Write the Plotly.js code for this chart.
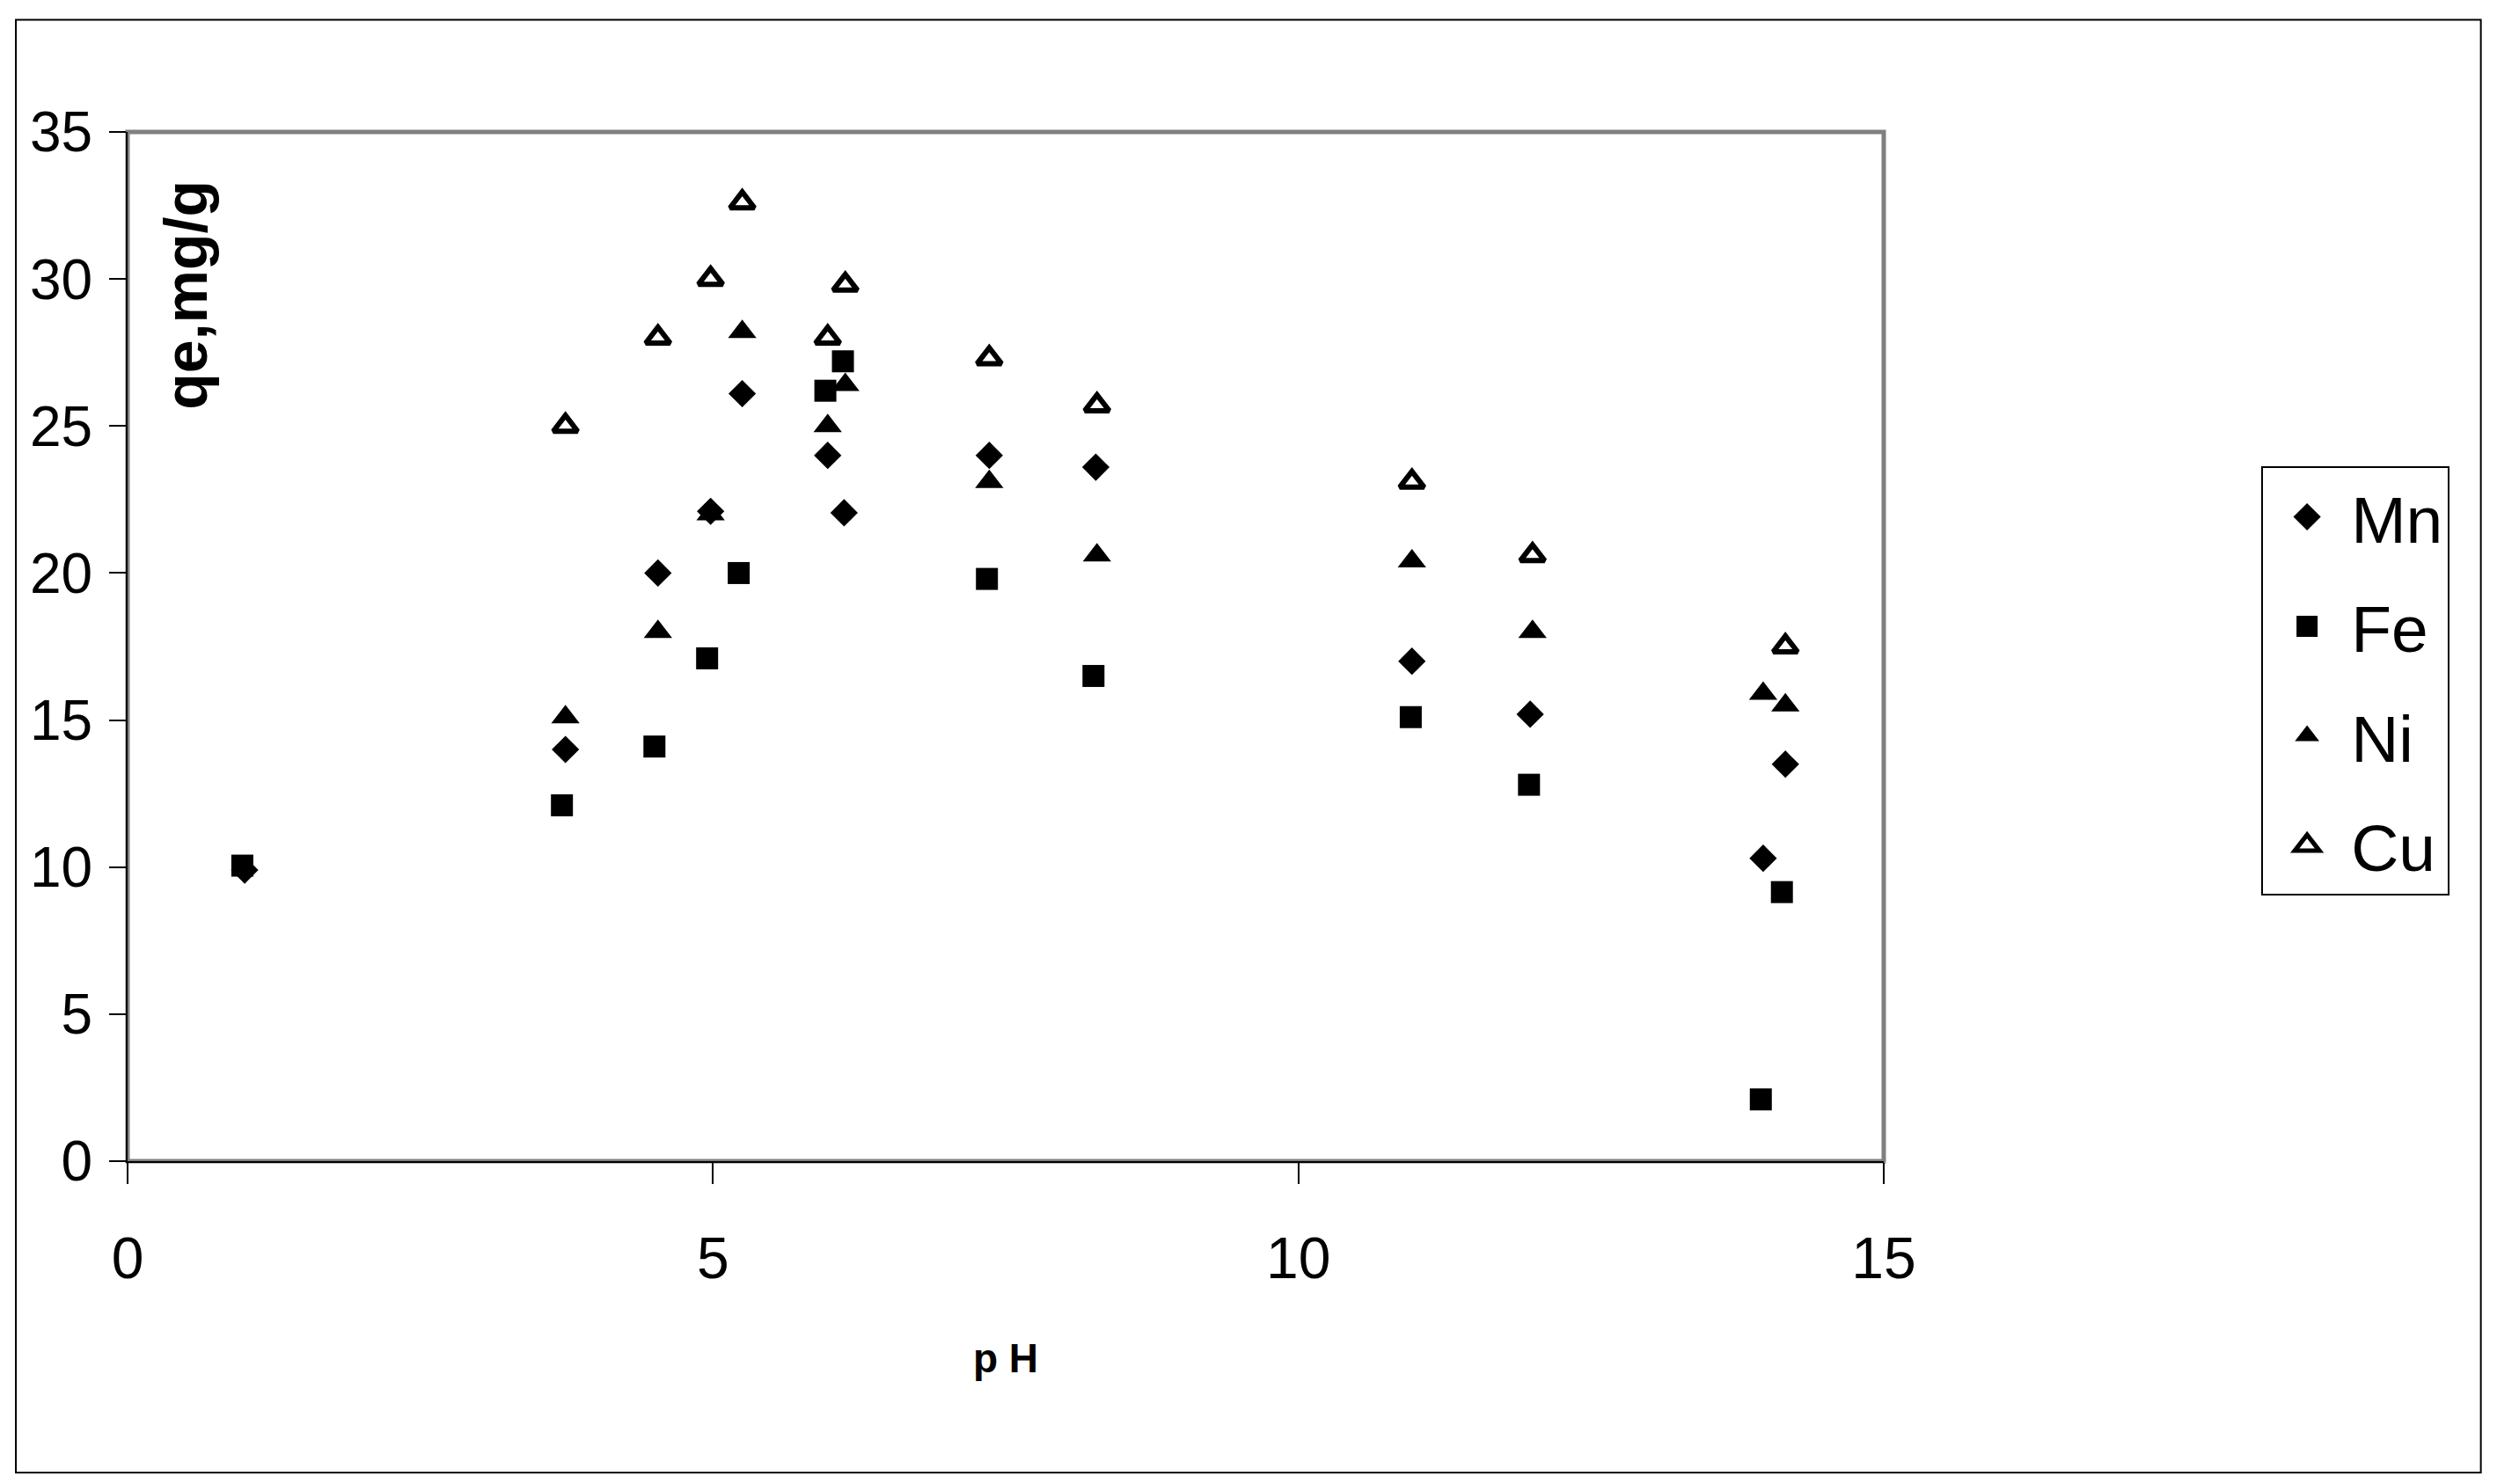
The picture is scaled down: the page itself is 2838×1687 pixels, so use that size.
<!DOCTYPE html>
<html>
<head>
<meta charset="utf-8">
<script src="https://cdn.plot.ly/plotly-3.0.1.min.js"></script>
<style>
  html, body { margin: 0; padding: 0; background: #fff; }
  #chart { width: 2838px; height: 1687px; }
</style>
</head>
<body>
<div id="chart"></div>
<script>
// values
var seriesNames = ['Mn', 'Fe', 'Ni', 'Cu'];

var phMn = [1.0, 3.74, 4.53, 4.98, 5.25, 5.98, 6.12, 7.36, 8.27, 10.97, 11.98, 13.97, 14.16];
var qeMn = [9.9, 14.0, 20.0, 22.1, 26.1, 24.0, 22.05, 24.0, 23.6, 17.0, 15.2, 10.3, 13.5];

var phFe = [0.98, 3.71, 4.50, 4.95, 5.22, 5.96, 6.11, 7.34, 8.25, 10.96, 11.97, 13.95, 14.13];
var qeFe = [10.05, 12.1, 14.1, 17.1, 20.0, 26.2, 27.2, 19.8, 16.5, 15.1, 12.8, 2.1, 9.15];

var phNi = [3.74, 4.53, 4.98, 5.25, 5.98, 6.13, 7.36, 8.28, 10.97, 12.0, 13.97, 14.16];
var qeNi = [15.1, 18.0, 22.0, 28.2, 25.0, 26.4, 23.1, 20.6, 20.4, 18.0, 15.9, 15.5];

var phCu = [3.74, 4.53, 4.98, 5.25, 5.98, 6.13, 7.36, 8.28, 10.97, 12.0, 14.16];
var qeCu = [25.0, 28.0, 30.0, 32.6, 28.0, 29.8, 27.3, 25.7, 23.1, 20.6, 17.5];

var xTicks = [0, 5, 10, 15];
var yTicks = [0, 5, 10, 15, 20, 25, 30, 35];

var font = 'Liberation Sans, Arial, sans-serif';

function series(name, x, y, symbol, size, lineW) {
    return {
        name: name,
        legendgroup: name,
        x: x,
        y: y,
        type: 'scatter',
        mode: 'markers',
        cliponaxis: false,
        marker: {
            symbol: symbol,
            size: size,
            color: '#000',
            line: {color: '#000', width: lineW}
        }
    };
}

var traces = [
    series(seriesNames[0], phMn, qeMn, 'diamond', 24, 0),
    series(seriesNames[1], phFe, qeFe, 'square', 25, 0),
    series(seriesNames[2], phNi, qeNi, 'triangle-up', 28, 0),
    series(seriesNames[3], phCu, qeCu, 'triangle-up-open', 24, 6)
];

var layout = {
    width: 2838,
    height: 1687,
    margin: {l: 145, r: 697, t: 150, b: 367},
    paper_bgcolor: '#fff',
    plot_bgcolor: '#fff',
    font: {family: font, color: '#000', size: 64},
    showlegend: true,
    legend: {
        x: 1.215, y: 0.675,
        xanchor: 'left', yanchor: 'top',
        bordercolor: '#000', borderwidth: 2,
        font: {family: font, size: 75},
        tracegroupgap: 24,
        itemwidth: 90,
        itemsizing: 'constant'
    },
    xaxis: {
        range: [0, 15],
        tickvals: xTicks,
        ticks: 'outside', ticklen: 24, tickwidth: 2, tickcolor: '#000',
        ticklabelstandoff: 28,
        showgrid: false, zeroline: false,
        showline: true, linecolor: '#000', linewidth: 2,
        tickfont: {size: 66},
        title: {text: '<b>p H</b>', font: {size: 46}, standoff: 62}
    },
    yaxis: {
        range: [0, 35],
        tickvals: yTicks,
        ticks: 'outside', ticklen: 19, tickwidth: 2, tickcolor: '#000',
        ticklabelstandoff: 6,
        showgrid: false, zeroline: false,
        showline: true, linecolor: '#000', linewidth: 2,
        tickfont: {size: 64}
    },
    annotations: [{
        text: '<b>qe,mg/g</b>',
        xref: 'paper', yref: 'paper',
        x: 0.033, y: 0.842,
        xanchor: 'center', yanchor: 'middle',
        textangle: -90,
        showarrow: false,
        font: {family: font, size: 68}
    }],
    shapes: [
        // gray plot frame
        {type: 'rect', xref: 'paper', yref: 'paper', x0: 0, x1: 1, y0: 0, y1: 1,
         line: {color: '#808080', width: 5}, layer: 'below'},
        // outer chart border
        {type: 'rect', xref: 'paper', yref: 'paper', x0: -0.0636, x1: 1.340, y0: -0.3026, y1: 1.109,
         line: {color: '#000', width: 2}}
    ]
};

function bigLegendSymbols(gd) {
    // plotly caps legend symbols small, scale them up to match the reference
    var pts = gd.querySelectorAll('.legendpoints path');
    for (var i = 0; i < pts.length; i++) {
        var t = pts[i].getAttribute('transform') || '';
        if (t.indexOf('scale') < 0) {
            pts[i].setAttribute('transform', t + ' scale(2)');
        }
        // open triangle: thicker outline like the original
        var d = pts[i].getAttribute('d') || '';
        var fill = pts[i].style.fill;
        if (fill === 'none' || fill === 'rgba(0, 0, 0, 0)' || (pts[i].style.fillOpacity === '0')) {
            pts[i].style.strokeWidth = '2.6px';
        }
    }
}

var gd = document.getElementById('chart');
Plotly.newPlot(gd, traces, layout, {staticPlot: true}).then(function () {
    bigLegendSymbols(gd);
    setTimeout(function () { bigLegendSymbols(gd); }, 50);
});
</script>
</body>
</html>
